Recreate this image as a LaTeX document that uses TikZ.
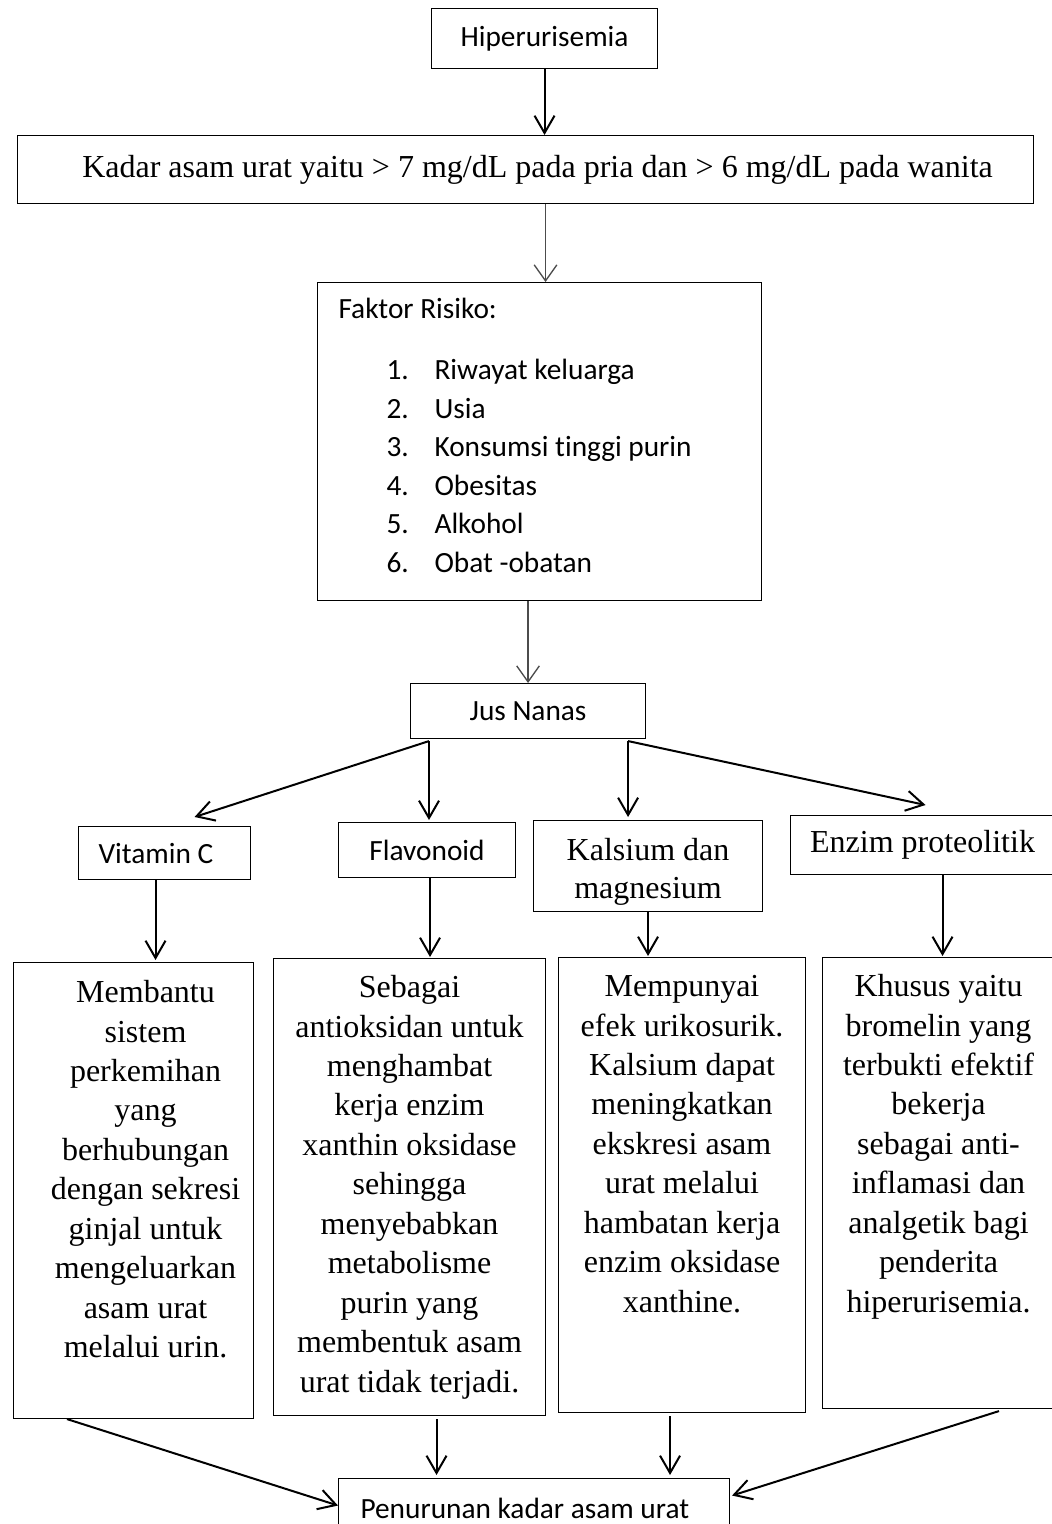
\documentclass[tikz,border=0pt]{standalone}
\usepackage{fontspec}
\setmainfont[Ligatures=NoCommon]{Liberation Serif}
\newfontfamily\calibri[Ligatures=NoCommon]{Carlito}
\usetikzlibrary{arrows.meta, calc}

\newdimen\pxu \pxu=0.75pt
\tikzset{wh/.style 2 args={minimum width=#1*\pxu, minimum height=#2*\pxu}}

\begin{document}
\begin{tikzpicture}[
		x=0.75pt, y=-0.75pt,
		% Boxes are placed by their top left corner
		box/.style={draw, line width=0.8pt, inner sep=0pt, anchor=north west},
		cal font/.style={font=\calibri\fontsize{22}{28.95}\selectfont},
		tim font/.style={font=\fontsize{24}{28.5}\selectfont, align=center},
		desc/.style={box, font=\fontsize{24}{29.6}\selectfont},
		% Arrows
		arr/.style={-{Straight Barb[length=13pt, width=15pt]}, line width=1.5pt},
		arr gray/.style={-{Straight Barb[length=12pt, width=17pt]}, line width=1pt, draw=black!70}
		]
		
		\path[use as bounding box, fill=white] (0,0) rectangle (1051,1524);
		
		% ==============================================================================
		% TOP: DEFINITION AND RISK FACTORS
		% ==============================================================================
		\node[box, cal font, wh={226}{60}] (hiper) at (431,8) {Hiperurisemia};
		
		\node[box, tim font, wh={1016}{68}] (kadar) at (17,135)
		{\hspace*{24\pxu}Kadar asam urat yaitu > 7 mg/dL pada pria dan > 6 mg/dL pada wanita};
		
		\node[box, cal font] (faktor) at (317,282) {
			\parbox[t][318\pxu][t]{444\pxu}{\raggedright
				\hspace*{21\pxu}\rule{0pt}{36\pxu}Faktor Risiko:\\[22.4\pxu]
				\hspace*{69\pxu}\makebox[48\pxu][l]{1.}Riwayat keluarga\\
				\hspace*{69\pxu}\makebox[48\pxu][l]{2.}Usia\\
				\hspace*{69\pxu}\makebox[48\pxu][l]{3.}Konsumsi tinggi purin\\
				\hspace*{69\pxu}\makebox[48\pxu][l]{4.}Obesitas\\
				\hspace*{69\pxu}\makebox[48\pxu][l]{5.}Alkohol\\
				\hspace*{69\pxu}\makebox[48\pxu][l]{6.}Obat -obatan}
		};
		
		\node[box, cal font, wh={235}{55}] (jus) at (410,683) {Jus Nanas};
		
		% --- Contents of the juice ---
		\node[box, cal font, wh={172}{53}] (vitc) at (78,826) {\makebox[132\pxu][l]{Vitamin C}};
		\node[box, cal font, wh={177}{55}] (flav) at (338,822) {Flavonoid};
		\node[box, tim font, wh={229}{91}] (kal) at (533,820) {\rule{0pt}{34\pxu}Kalsium dan\\magnesium};
		\node[box, tim font, wh={264}{59}] (enz) at (790,815) {Enzim proteolitik};
		
		% ==============================================================================
		% EFFECTS
		% ==============================================================================
		\node[desc] (d1) at (13,962) {\hspace*{24\pxu}\parbox[t][456\pxu][t]{216\pxu}{\centering
				\rule{0pt}{40\pxu}Membantu\\ sistem\\ perkemihan\\ yang\\ berhubungan\\
				dengan sekresi\\ ginjal untuk\\ mengeluarkan\\ asam urat\\ melalui urin.}};
		
		\node[desc] (d2) at (273,958) {\parbox[t][457\pxu][t]{272\pxu}{\centering
				\rule{0pt}{39\pxu}Sebagai\\ antioksidan untuk\\ menghambat\\ kerja enzim\\
				xanthin oksidase\\ sehingga\\ menyebabkan\\ metabolisme\\ purin yang\\
				membentuk asam\\ urat tidak terjadi.}};
		
		\node[desc] (d3) at (558,957) {\parbox[t][455\pxu][t]{247\pxu}{\centering
				\rule{0pt}{39\pxu}Mempunyai\\ efek urikosurik.\\ Kalsium dapat\\ meningkatkan\\
				ekskresi asam\\ urat melalui\\ hambatan kerja\\ enzim oksidase\\ xanthine.}};
		
		\node[desc] (d4) at (822,957) {\parbox[t][451\pxu][t]{232\pxu}{\centering
				\rule{0pt}{39\pxu}Khusus yaitu\\ bromelin yang\\ terbukti efektif\\ bekerja\\
				sebagai anti-\\ inflamasi dan\\ analgetik bagi\\ penderita\\ hiperurisemia.}};
		
		\node[box, cal font, wh={391}{60}] (pen) at (338,1478) {\makebox[347\pxu][l]{Penurunan kadar asam urat}};
		
		% ==============================================================================
		% ARROWS
		% ==============================================================================
		\coordinate (k1) at ($(faktor.north)+(6,0)$);
		\draw[arr] (hiper.south) -- (hiper.south |- kadar.north);
		\draw[arr gray] (k1 |- kadar.south) -- (k1);
		\draw[arr gray] (jus.north |- faktor.south) -- (jus.north);
		
		% --- Juice to its contents ---
		\coordinate (jl) at ($(jus.south west)+(19,2)$);
		\coordinate (jr) at ($(jus.south east)+(-18,2)$);
		\draw[arr] (jl) -- ($(vitc.north)+(30,-9)$);
		\draw[arr] (jl) -- ($(jl |- flav.north)+(0,-2)$);
		\draw[arr] (jr) -- ($(jr |- kal.north)+(0,-3)$);
		\draw[arr] (jr) -- ($(enz.north)+(3,-10)$);
		
		% --- Contents to effects ---
		\coordinate (v1) at ($(vitc.south)+(-9,0)$);
		\coordinate (v2) at ($(flav.south)+(3,0)$);
		\coordinate (v4) at ($(enz.south)+(20,0)$);
		\draw[arr] (v1) -- ($(v1 |- d1.north)+(0,-2)$);
		\draw[arr] (v2) -- ($(v2 |- d2.north)+(0,-1)$);
		\draw[arr] (kal.south) -- ($(kal.south |- d3.north)+(0,-1)$);
		\draw[arr] (v4) -- ($(v4 |- d4.north)+(0,-1)$);
		
		% --- Effects to result ---
		\coordinate (w2) at ($(d2.south)+(27,3)$);
		\coordinate (w3) at ($(d3.south)+(-12,3)$);
		\draw[arr] ($(d1.south west)+(54,0)$) -- ($(pen.west)+(0,-3)$);
		\draw[arr] (w2) -- ($(w2 |- pen.north)+(0,-3)$);
		\draw[arr] (w3) -- ($(w3 |- pen.north)+(0,-3)$);
		\draw[arr] ($(d4.south west)+(177,2)$) -- ($(pen.east)+(2,-13)$);
		
\end{tikzpicture}
\end{document}
